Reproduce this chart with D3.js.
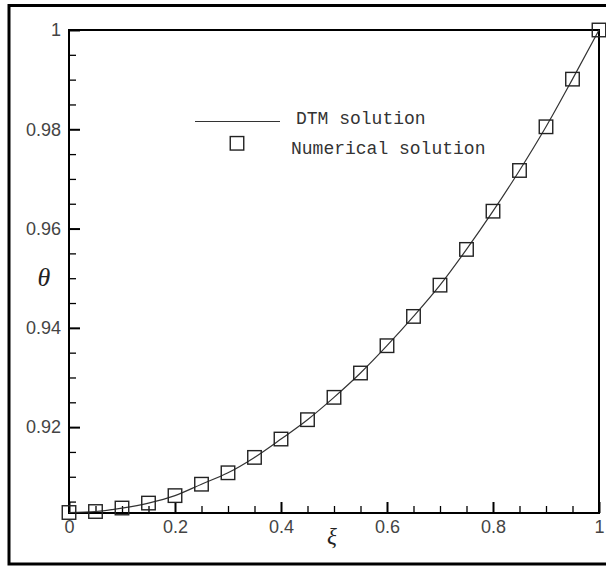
<!DOCTYPE html>
<html lang="en">
<head>
    <meta charset="UTF-8">
    <title>theta vs xi</title>
    <script src="https://cdn.jsdelivr.net/npm/d3@7/dist/d3.min.js"></script>
    <style>
        body { margin: 0; background: #fff; }
    </style>
</head>
<body>
<svg width="606" height="566" id="main"></svg>
<script>
    // values
    let xi = [0, 0.05, 0.1, 0.15, 0.2, 0.25, 0.3, 0.35, 0.4, 0.45, 0.5,
        0.55, 0.6, 0.65, 0.7, 0.75, 0.8, 0.85, 0.9, 0.95, 1];
    let thetaDTM = [0.9028, 0.9030, 0.9037, 0.9047, 0.9062, 0.9085, 0.9108, 0.9139, 0.9176, 0.9215, 0.9260,
        0.9309, 0.9364, 0.9423, 0.9486, 0.9558, 0.9635, 0.9717, 0.9805, 0.9901, 1.0];
    let thetaNum = [0.9028, 0.9030, 0.9037, 0.9047, 0.9062, 0.9085, 0.9108, 0.9139, 0.9176, 0.9215, 0.9260,
        0.9309, 0.9364, 0.9423, 0.9486, 0.9558, 0.9635, 0.9717, 0.9805, 0.9901, 1.0];
    let xTicks = [0, 0.2, 0.4, 0.6, 0.8, 1];
    let yTicks = [0.92, 0.94, 0.96, 0.98, 1];
    let yMin = 0.9027;

    let svg = d3.select('#main');
    let margin = {top: 30, left: 69, right: 599, bottom: 513};

    // outer frame
    svg.append('rect').attr('x', 9).attr('y', 5.5).attr('width', 620).attr('height', 558.5)
        .attr('fill', 'none').attr('stroke', '#000').attr('stroke-width', 3);

    let xScale = d3.scaleLinear().domain([0, 1]).range([margin.left, margin.right]);
    let yScale = d3.scaleLinear().domain([yMin, 1]).range([margin.bottom, margin.top]);

    // minor ticks
    let xMinor = d3.range(0, 1.0001, 0.05).filter(v => !xTicks.some(t => Math.abs(t - v) < 1e-6));
    let yMinor = d3.range(0.905, 1.0001, 0.005).filter(v => !yTicks.some(t => Math.abs(t - v) < 1e-6));

    svg.append('g').attr('transform', `translate(0, ${margin.bottom})`)
        .call(d3.axisBottom(xScale).tickValues(xMinor).tickSize(-7).tickSizeOuter(0).tickFormat(''))
        .call(g => g.select('.domain').remove())
        .selectAll('line').attr('stroke', '#000').attr('stroke-width', 1.3);
    svg.append('g').attr('transform', `translate(${margin.left}, 0)`)
        .call(d3.axisLeft(yScale).tickValues(yMinor).tickSize(-7).tickSizeOuter(0).tickFormat(''))
        .call(g => g.select('.domain').remove())
        .selectAll('line').attr('stroke', '#000').attr('stroke-width', 1.3);

    // major ticks
    let xAxis = svg.append('g').attr('transform', `translate(0, ${margin.bottom})`)
        .call(d3.axisBottom(xScale).tickValues(xTicks).tickSize(-11).tickSizeOuter(0).tickPadding(7)
            .tickFormat(d => d3.format('')(d)));
    xAxis.select('.domain').remove();
    xAxis.selectAll('line').attr('stroke', '#000').attr('stroke-width', 2);

    let yAxis = svg.append('g').attr('transform', `translate(${margin.left}, 0)`)
        .call(d3.axisLeft(yScale).tickValues(yTicks).tickSize(-11).tickSizeOuter(0).tickPadding(8)
            .tickFormat(d => d3.format('')(+d.toFixed(2))));
    yAxis.select('.domain').remove();
    yAxis.selectAll('line').attr('stroke', '#000').attr('stroke-width', 2);

    svg.selectAll('.tick text').attr('font-family', 'Arial, "Liberation Sans", sans-serif')
        .attr('font-size', '18px').attr('fill', '#444');

    // plot box
    svg.append('rect').attr('x', margin.left).attr('y', margin.top)
        .attr('width', margin.right - margin.left).attr('height', margin.bottom - margin.top)
        .attr('fill', 'none').attr('stroke', '#000').attr('stroke-width', 2);

    // DTM curve
    let line = d3.line().x((d, i) => xScale(xi[i])).y(d => yScale(d)).curve(d3.curveMonotoneX);
    svg.append('path').datum(thetaDTM).attr('d', line)
        .attr('fill', 'none').attr('stroke', '#333').attr('stroke-width', 1.2);

    // numerical squares
    let s = 13.5;
    thetaNum.forEach((v, i) => {
        svg.append('rect').attr('x', xScale(xi[i]) - s / 2).attr('y', yScale(v) - s / 2)
            .attr('width', s).attr('height', s)
            .attr('fill', 'none').attr('stroke', '#222').attr('stroke-width', 1.4);
    });

    // legend
    svg.append('line').attr('x1', 195).attr('x2', 280).attr('y1', 121.5).attr('y2', 121.5)
        .attr('stroke', '#333').attr('stroke-width', 1.2);
    svg.append('text').text('DTM solution').attr('x', 296).attr('y', 123.5)
        .attr('font-family', '"Courier New", "Liberation Mono", monospace').attr('font-size', '18px').attr('fill', '#333');
    svg.append('rect').attr('x', 237 - s / 2).attr('y', 143.3 - s / 2).attr('width', s).attr('height', s)
        .attr('fill', 'none').attr('stroke', '#222').attr('stroke-width', 1.4);
    svg.append('text').text('Numerical solution').attr('x', 291).attr('y', 153.5)
        .attr('font-family', '"Courier New", "Liberation Mono", monospace').attr('font-size', '18px').attr('fill', '#333');

    // axis titles
    svg.append('text').text('θ').attr('x', 44).attr('y', 286)
        .attr('text-anchor', 'middle').attr('font-family', '"Times New Roman", "Liberation Serif", serif')
        .attr('font-style', 'italic').attr('font-size', '26px').attr('fill', '#222');
    svg.append('text').text('ξ').attr('x', 332).attr('y', 544)
        .attr('text-anchor', 'middle').attr('font-family', '"Times New Roman", "Liberation Serif", serif')
        .attr('font-style', 'italic').attr('font-size', '23px').attr('fill', '#222');
</script>
</body>
</html>
